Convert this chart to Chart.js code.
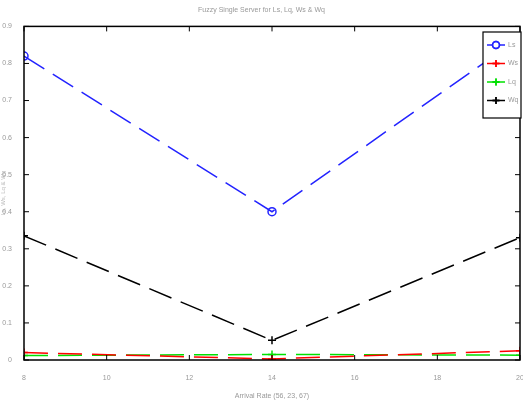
<!DOCTYPE html>
<html>
<head>
<meta charset="utf-8">
<script src="https://cdn.jsdelivr.net/npm/chart.js@4/dist/chart.umd.min.js"></script>
<style>
  html, body { margin: 0; padding: 0; background: #fff; }
  #wrap { width: 523px; height: 404px; }
</style>
</head>
<body>
<div id="wrap"><canvas id="c" width="523" height="404"></canvas></div>
<script>
// arrival rates and queue measures
const rates = [8, 14, 20];
const ls = [0.82, 0.40, 0.87];
const ws = [0.02, 0.003, 0.025];
const lq = [0.012, 0.015, 0.013];
const wq = [0.335, 0.053, 0.33];
const xTicks = [8, 10, 12, 14, 16, 18, 20];
const yTicks = [0, 0.1, 0.2, 0.3, 0.4, 0.5, 0.6, 0.7, 0.8, 0.9];

const toPts = arr => arr.map((v, i) => ({ x: rates[i], y: v }));

function series(label, vals, color, style) {
    return {
        label, data: toPts(vals), borderColor: color, backgroundColor: color,
        borderWidth: 1.5, borderDash: [24, 10], pointStyle: style,
        pointRadius: 4, pointBorderWidth: 1.5, pointBackgroundColor: 'rgba(0,0,0,0)',
        tension: 0, fill: false
    };
}

// box around plot + inward tick marks, matlab style
const frame = {
    id: 'frame',
    afterLayout(chart) {
        // stretch plot to the right edge, last tick label may get clipped
        const x = chart.scales.x, a = chart.chartArea;
        x.right = 520; x.width = x.right - x.left; x.configure();
        a.right = 520; a.width = a.right - a.left;
    },
    afterDraw(chart) {
        const { ctx, chartArea: a, scales } = chart;
        ctx.save();
        ctx.strokeStyle = '#000'; ctx.lineWidth = 1.5;
        ctx.strokeRect(a.left, a.top, a.right - a.left, a.bottom - a.top);
        ctx.lineWidth = 1;
        ctx.beginPath();
        xTicks.forEach(t => {
            const x = scales.x.getPixelForValue(t);
            ctx.moveTo(x, a.bottom); ctx.lineTo(x, a.bottom - 5);
            ctx.moveTo(x, a.top); ctx.lineTo(x, a.top + 5);
        });
        yTicks.forEach(t => {
            const y = scales.y.getPixelForValue(t);
            ctx.moveTo(a.left, y); ctx.lineTo(a.left + 5, y);
            ctx.moveTo(a.right, y); ctx.lineTo(a.right - 5, y);
        });
        ctx.stroke();

        // legend box in upper right
        const bx = 483, by = 32, bw = 38, bh = 86;
        ctx.fillStyle = '#fff';
        ctx.fillRect(bx, by, bw, bh);
        ctx.lineWidth = 1.2;
        ctx.strokeRect(bx, by, bw, bh);
        ctx.font = '7px "Liberation Sans"';
        ctx.textBaseline = 'middle';
        chart.data.datasets.forEach((ds, i) => {
            const y = by + 13 + i * 18.5;
            ctx.strokeStyle = ds.borderColor; ctx.lineWidth = 1.5;
            ctx.beginPath(); ctx.moveTo(bx + 4, y); ctx.lineTo(bx + 22, y); ctx.stroke();
            Chart.helpers.drawPoint(ctx, { pointStyle: ds.pointStyle, radius: 3.5, borderWidth: 1.5 }, bx + 13, y);
            ctx.stroke();
            ctx.fillStyle = '#999';
            ctx.fillText(ds.label, bx + 25, y);
        });
        ctx.restore();
    }
};

new Chart(document.getElementById('c'), {
    type: 'line',
    data: {
        datasets: [
            series('Ls', ls, '#2323ff', 'circle'),
            series('Ws', ws, '#ff0000', 'cross'),
            series('Lq', lq, '#00e000', 'cross'),
            series('Wq', wq, '#000000', 'cross')
        ]
    },
    options: {
        responsive: false, animation: false,
        layout: { padding: 0 },
        plugins: {
            legend: { display: false },
            tooltip: { enabled: false },
            title: {
                display: true, text: 'Fuzzy Single Server for Ls, Lq, Ws & Wq',
                color: '#999', font: { size: 7, family: 'Liberation Sans', weight: 'normal' },
                padding: { top: 6, bottom: 12 }
            }
        },
        scales: {
            x: {
                type: 'linear', min: 8, max: 20,
                afterBuildTicks: s => { s.ticks = xTicks.map(v => ({ value: v })); },
                afterFit: s => { s.height = 44; s.paddingRight = 0; s.paddingLeft = 0; },
                grid: { display: false },
                border: { display: false },
                ticks: { color: '#999', font: { size: 7, family: 'Liberation Sans' }, padding: 6, maxRotation: 0 },
                title: {
                    display: true, text: 'Arrival Rate (56, 23, 67)', color: '#999',
                    font: { size: 7, family: 'Liberation Sans' }, padding: { top: 4 }
                }
            },
            y: {
                type: 'linear', min: 0, max: 0.9,
                afterBuildTicks: s => { s.ticks = yTicks.map(v => ({ value: v })); },
                afterFit: s => { s.width = 24; },
                grid: { display: false },
                border: { display: false },
                ticks: { color: '#999', font: { size: 7, family: 'Liberation Sans' }, padding: 4 },
                title: {
                    display: true, text: 'Ls, Ws, Lq & Wq', color: '#bbb',
                    font: { size: 6, family: 'Liberation Sans' }, padding: 0
                }
            }
        }
    },
    plugins: [frame]
});
</script>
</body>
</html>
